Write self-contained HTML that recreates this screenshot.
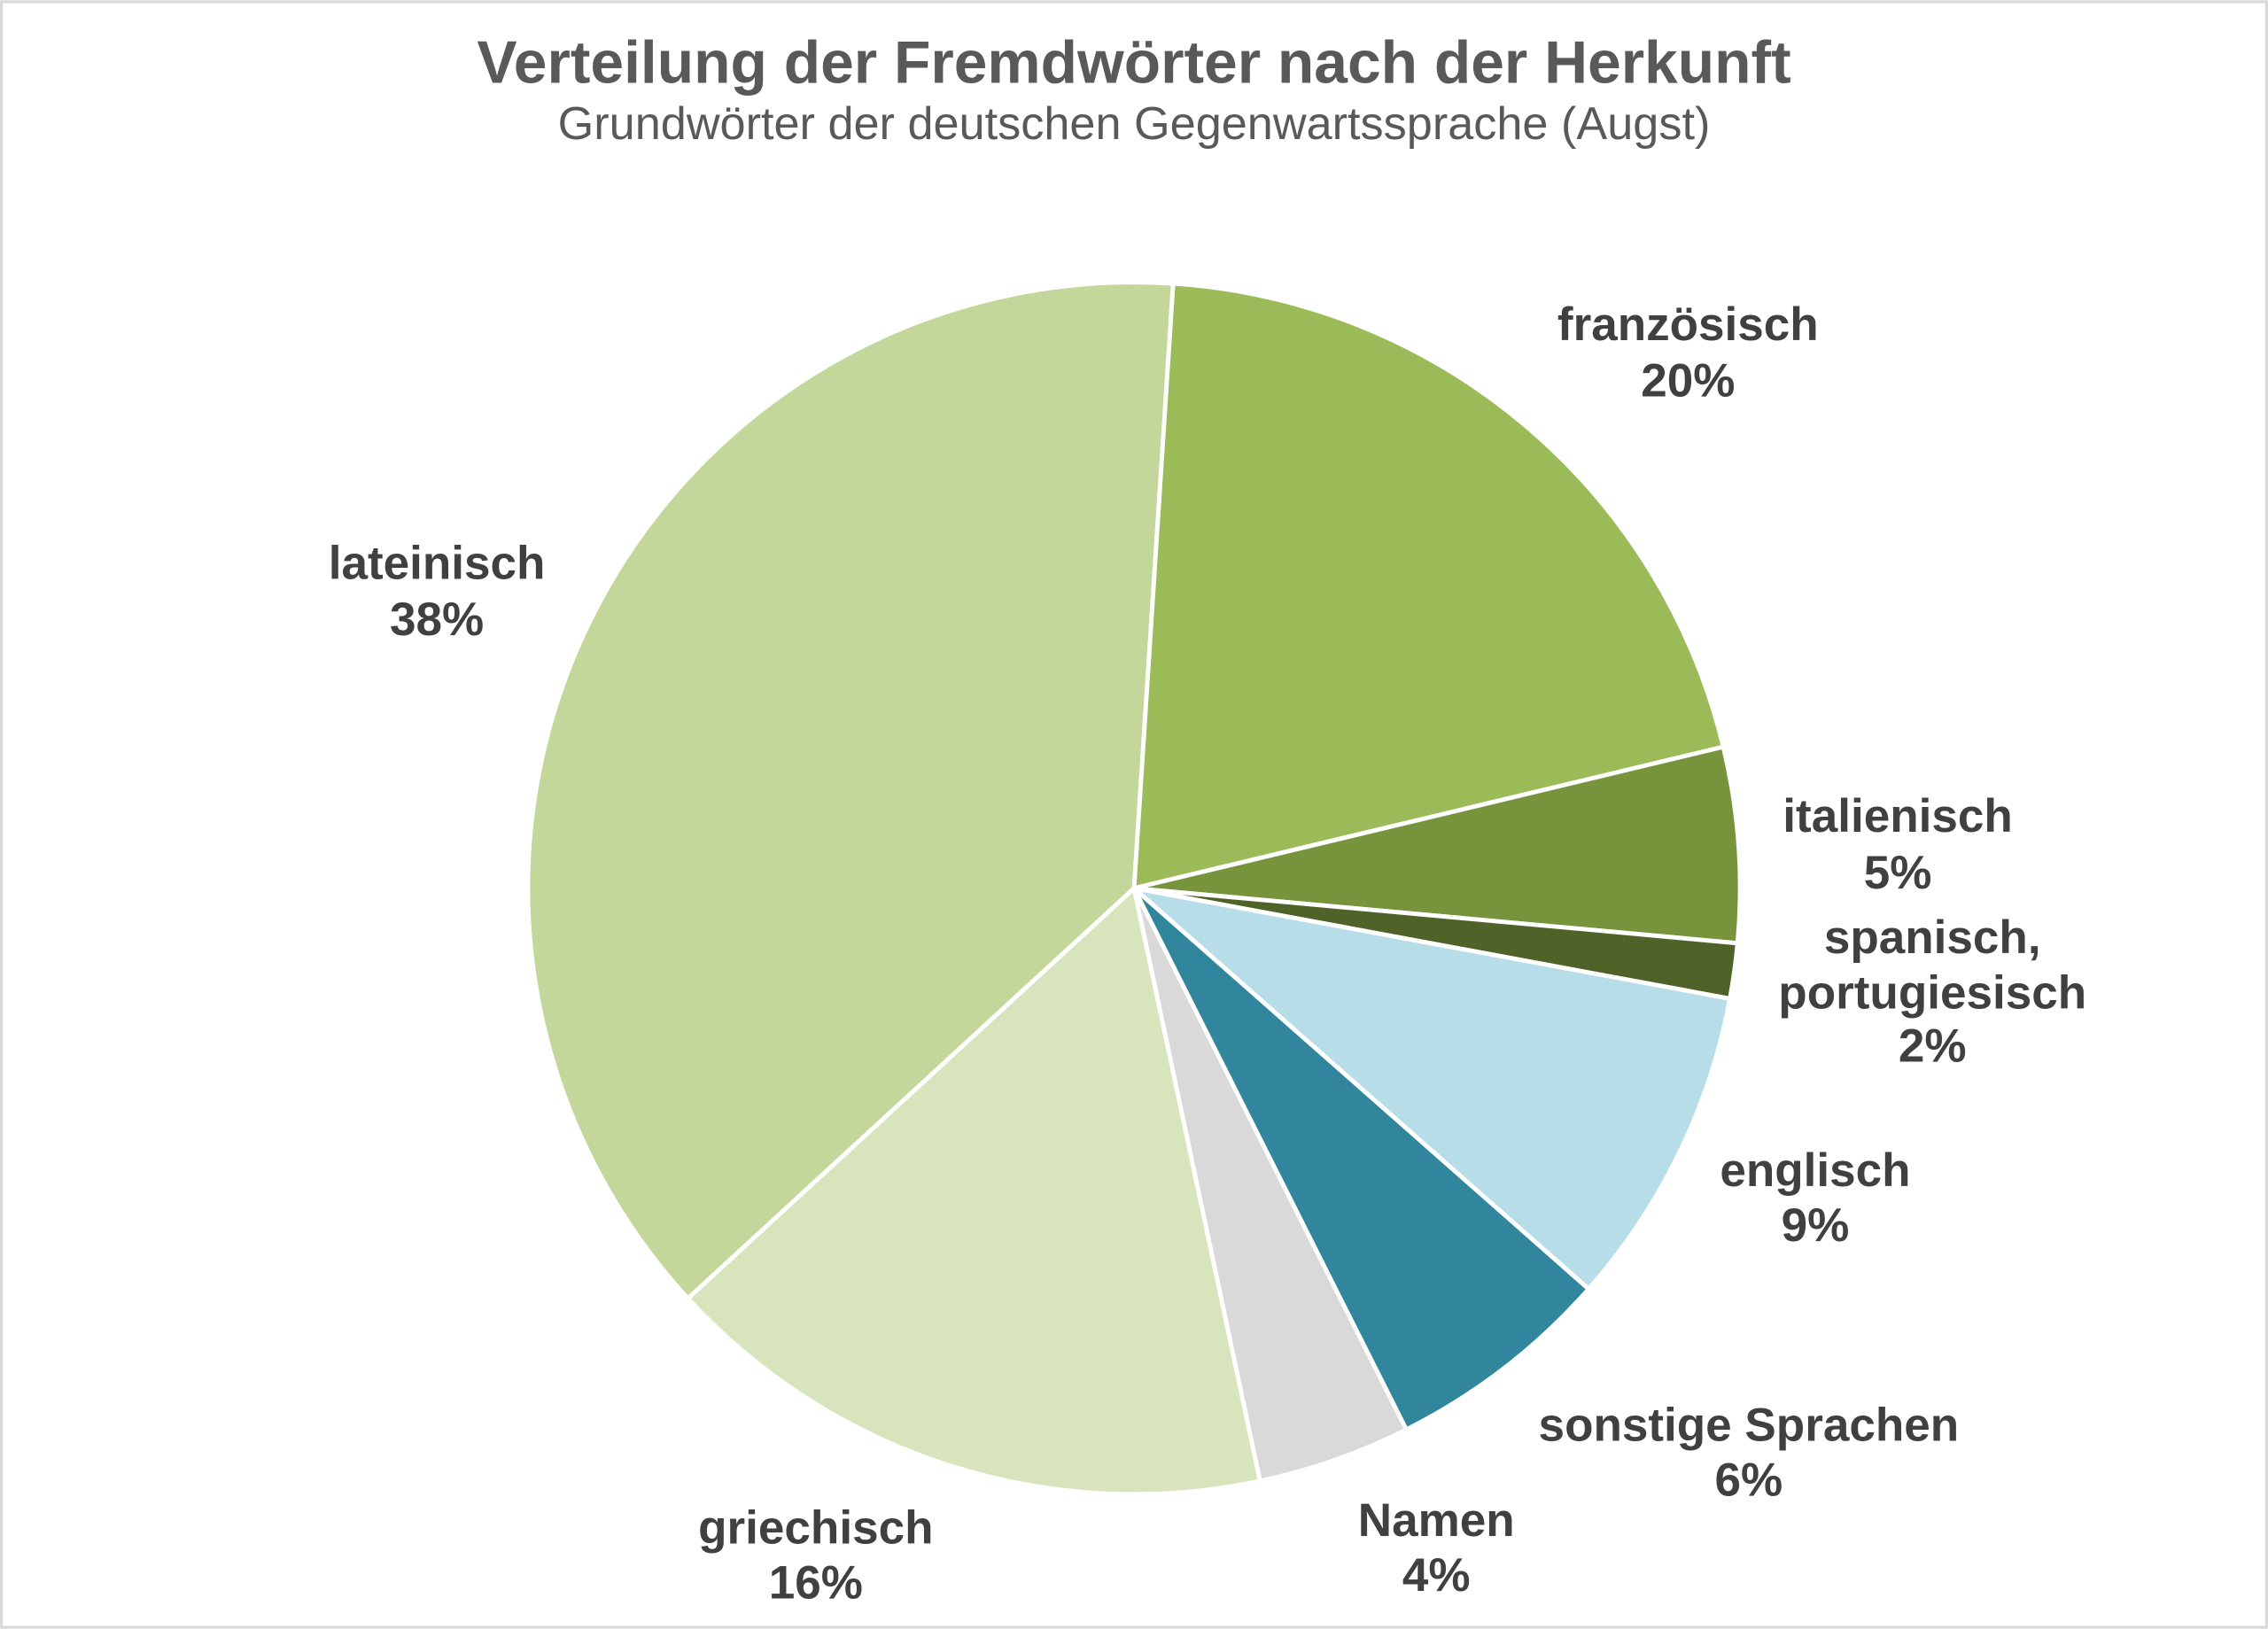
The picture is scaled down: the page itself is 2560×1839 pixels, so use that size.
<!DOCTYPE html>
<html><head><meta charset="utf-8"><style>
html,body{margin:0;padding:0;background:#fff;}
svg{display:block;}
text{font-family:"Liberation Sans",Arial,sans-serif;}
</style></head><body>
<svg id="s" width="2560" height="1839" viewBox="0 0 1568 1126" xmlns="http://www.w3.org/2000/svg">
<rect x="1" y="1" width="1566" height="1124" fill="#fff" stroke="#d9d9d9" stroke-width="2"/>
<text x="784" y="57" text-anchor="middle" font-size="41.5" font-weight="bold" fill="#595959">Verteilung der Fremdwörter nach der Herkunft</text>
<text x="784" y="96" text-anchor="middle" font-size="32" fill="#595959">Grundwörter der deutschen Gegenwartssprache (Augst)</text>
<g id="pie"></g>
<g font-size="32.5" font-weight="bold" fill="#404040" text-anchor="middle">
<text x="1167" y="235">französisch</text><text x="1167" y="274">20%</text>
<text x="302" y="400">lateinisch</text><text x="302" y="439">38%</text>
<text x="1312" y="575">italienisch</text><text x="1312" y="614">5%</text>
<text x="1336" y="659">spanisch,</text><text x="1336" y="697">portugiesisch</text><text x="1336" y="734">2%</text>
<text x="1255" y="820">englisch</text><text x="1255" y="858">9%</text>
<text x="1209" y="996">sonstige Sprachen</text><text x="1209" y="1034">6%</text>
<text x="993" y="1062">Namen</text><text x="993" y="1100">4%</text>
<text x="564" y="1067">griechisch</text><text x="564" y="1105">16%</text>
</g>
</svg>
<script>
var cx=784,cy=614,r=419;
var segs=[[3.7,76.5,"#9bbb59"],[76.5,95.2,"#77933c"],[95.2,100.5,"#4f6228"],[100.5,131.4,"#b7dee8"],[131.4,153.3,"#31859c"],[153.3,168,"#d9d9d9"],[168,227.4,"#d8e4bc"],[227.4,363.7,"#c4d79b"]];
function pt(a){a=a*Math.PI/180;return [cx+r*Math.sin(a),cy-r*Math.cos(a)];}
var h="";
segs.forEach(function(s){var p1=pt(s[0]),p2=pt(s[1]);var lg=(s[1]-s[0])>180?1:0;
h+='<path d="M'+cx+' '+cy+' L'+p1[0].toFixed(2)+' '+p1[1].toFixed(2)+' A'+r+' '+r+' 0 '+lg+' 1 '+p2[0].toFixed(2)+' '+p2[1].toFixed(2)+' Z" fill="'+s[2]+'" stroke="#fff" stroke-width="3" stroke-linejoin="round"/>';});
document.getElementById("pie").innerHTML=h;
</script>
</body></html>
